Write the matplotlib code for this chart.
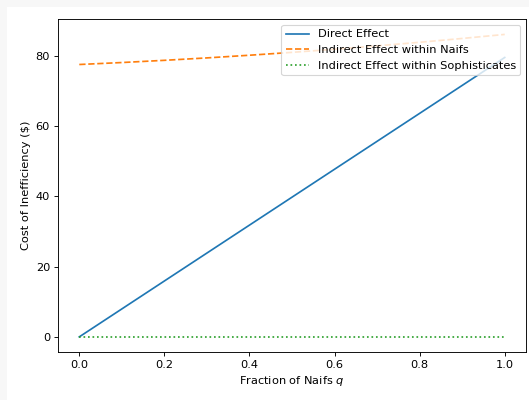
import numpy as np
import matplotlib
matplotlib.use("Agg")
import matplotlib.pyplot as plt
from matplotlib.patches import Rectangle

# fraction of naifs in the population
q = [0.0, 0.1, 0.2, 0.3, 0.4, 0.5, 0.6, 0.7, 0.8, 0.9, 1.0]

# cost of inefficiency ($) for each channel
direct_effect = [0.0, 7.96, 15.92, 23.88, 31.84, 39.8, 47.76, 55.72, 63.68, 71.64, 79.6]
indirect_naifs = [77.6, 78.16, 78.79, 79.48, 80.24, 81.06, 81.95, 82.91, 83.93, 85.02, 86.17]
indirect_sophisticates = [0.0, 0.0, 0.0, 0.0, 0.0, 0.0, 0.0, 0.0, 0.0, 0.0, 0.0]

DPI = 81.5
W, H = 529, 400

fig = plt.figure(figsize=(W / DPI, H / DPI), dpi=DPI, facecolor="#f7f7f7")
# white page area, drawn under the axes
fig.patches.append(Rectangle((7 / W, 0), 1 - 7 / W, 1 - 7 / H,
                             transform=fig.transFigure, facecolor="white",
                             edgecolor="none", zorder=-10))

ax = fig.add_axes([58 / W, 48 / H, 468 / W, 332.7 / H])
ax.set_zorder(1)
ax.plot(q, direct_effect, label="Direct Effect")
ax.plot(q, indirect_naifs, "--", label="Indirect Effect within Naifs")
ax.plot(q, indirect_sophisticates, ":", label="Indirect Effect within Sophisticates")

ax.set_xlabel("Fraction of Naifs $q$")
ax.set_ylabel("Cost of Inefficiency (\\$)")
ax.set_xticks([0.0, 0.2, 0.4, 0.6, 0.8, 1.0])
ax.set_yticks([0, 20, 40, 60, 80])
ax.legend(loc="upper right")

fig.savefig("out.png", dpi=DPI, facecolor=fig.get_facecolor())
